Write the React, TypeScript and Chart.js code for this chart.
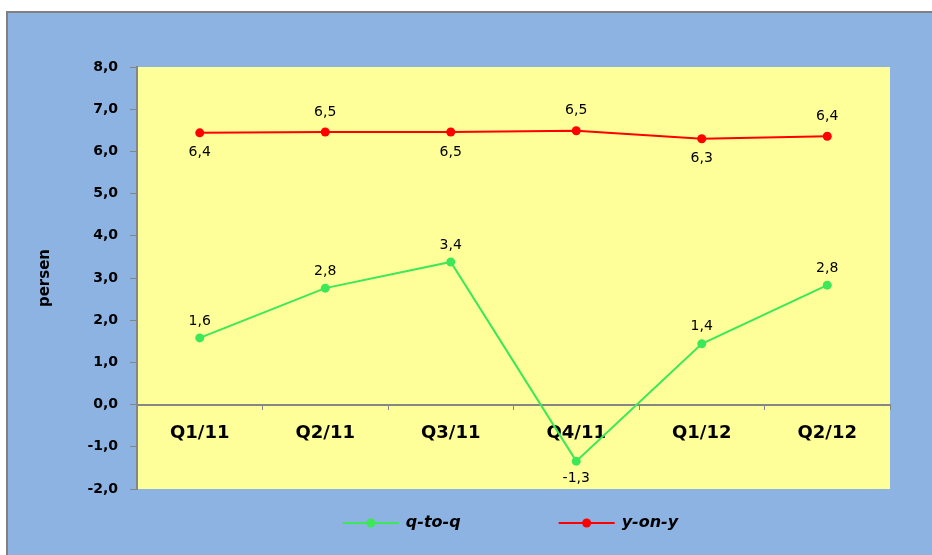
import React, { useEffect, useRef } from "react";
import { Chart, registerables } from "chart.js";

Chart.register(...registerables);

const categories = ["Q1/11", "Q2/11", "Q3/11", "Q4/11", "Q1/12", "Q2/12"];
const qtoqValues = [1.58, 2.76, 3.38, -1.34, 1.44, 2.83];
const yoyValues = [6.44, 6.46, 6.46, 6.49, 6.3, 6.36];
const seriesNames = ["q-to-q", "y-on-y"];
const yMin = -2;
const yMax = 8;
const yStep = 1;
const yTitle = "persen";

const FONT = "'DejaVu Sans', Verdana, sans-serif";
const fmt = (v: number) => v.toFixed(1).replace(".", ",");

const backgroundPlugin = {
  id: "bg",
  beforeDraw(chart: any) {
    const { ctx, width, height, chartArea } = chart;
    ctx.save();
    ctx.fillStyle = "#ffffff";
    ctx.fillRect(0, 0, width, height);
    ctx.fillStyle = "#8db3e2";
    ctx.fillRect(6, 11, width - 6, height - 11);
    ctx.strokeStyle = "#808080";
    ctx.lineWidth = 2;
    ctx.beginPath();
    ctx.moveTo(7, height);
    ctx.lineTo(7, 12);
    ctx.lineTo(width, 12);
    ctx.stroke();
    ctx.fillStyle = "#ffff99";
    ctx.fillRect(chartArea.left, chartArea.top, chartArea.right - chartArea.left, chartArea.bottom - chartArea.top);
    ctx.restore();
  },
};

const dataLabelPlugin = {
  id: "dlabels",
  afterDatasetsDraw(chart: any) {
    const { ctx } = chart;
    ctx.save();
    ctx.font = `14px ${FONT}`;
    ctx.fillStyle = "#000000";
    ctx.textAlign = "center";
    ctx.textBaseline = "middle";
    chart.data.datasets.forEach((ds: any, di: number) => {
      const meta = chart.getDatasetMeta(di);
      meta.data.forEach((pt: any, i: number) => {
        const v = ds.data[i];
        let above: boolean;
        if (di === 1) above = i % 2 === 1;
        else above = v >= 0;
        const off = di === 1 ? 20 : 17;
        ctx.fillText(fmt(v), pt.x, above ? pt.y - off : pt.y + off);
      });
    });
    ctx.restore();
  },
};

const legendPlugin = {
  id: "customLegend",
  afterDraw(chart: any) {
    const { ctx, chartArea } = chart;
    ctx.save();
    ctx.font = `italic bold 16px ${FONT}`;
    const lineLen = 56;
    const gapText = 7;
    const gapItems = 98;
    const items = chart.data.datasets.map((ds: any) => ({
      label: ds.label,
      color: ds.borderColor,
      w: lineLen + gapText + ctx.measureText(ds.label).width,
    }));
    const total = items.reduce((s: number, it: any) => s + it.w, 0) + gapItems * (items.length - 1);
    let x = (chartArea.left + chartArea.right) / 2 - total / 2 - 3;
    const y = 523;
    items.forEach((it: any) => {
      ctx.strokeStyle = it.color;
      ctx.lineWidth = 2;
      ctx.beginPath();
      ctx.moveTo(x, y);
      ctx.lineTo(x + lineLen, y);
      ctx.stroke();
      ctx.fillStyle = it.color;
      ctx.beginPath();
      ctx.arc(x + lineLen / 2, y, 4.5, 0, Math.PI * 2);
      ctx.fill();
      ctx.fillStyle = "#000000";
      ctx.textAlign = "left";
      ctx.textBaseline = "middle";
      ctx.fillText(it.label, x + lineLen + gapText, y);
      x += it.w + gapItems;
    });
    ctx.restore();
  },
};

export default function App() {
  const ref = useRef<HTMLCanvasElement>(null);
  useEffect(() => {
    if (!ref.current) return;
    const chart = new Chart(ref.current, {
      type: "line",
      data: {
        labels: categories,
        datasets: [
          {
            label: seriesNames[0],
            data: qtoqValues,
            borderColor: "#3ce858",
            backgroundColor: "#3ce858",
            borderWidth: 2,
            pointRadius: 4.5,
            pointBorderWidth: 0,
            tension: 0,
          },
          {
            label: seriesNames[1],
            data: yoyValues,
            borderColor: "#ff0000",
            backgroundColor: "#ff0000",
            borderWidth: 2,
            pointRadius: 4.5,
            pointBorderWidth: 0,
            tension: 0,
          },
        ],
      },
      options: {
        responsive: false,
        animation: false,
        layout: { padding: { left: 0, top: 67, right: 42, bottom: 66 } },
        plugins: { legend: { display: false }, tooltip: { enabled: false } },
        scales: {
          x: {
            type: "category",
            position: { y: 0 } as any,
            offset: true,
            grid: {
              display: true,
              drawOnChartArea: false,
              drawTicks: true,
              tickLength: 4,
              color: "#868686",
              offset: true,
            },
            border: { display: true, color: "#868686", width: 2 },
            ticks: {
              color: "#000000",
              font: { family: FONT, size: 18, weight: "bold" },
              padding: 14,
              maxRotation: 0,
            },
          },
          y: {
            min: yMin,
            max: yMax,
            afterFit(scale: any) {
              scale.width = 137;
            },
            grid: {
              display: true,
              drawOnChartArea: false,
              drawTicks: true,
              tickLength: 7,
              color: "#868686",
            },
            border: { display: true, color: "#868686", width: 2 },
            ticks: {
              stepSize: yStep,
              color: "#000000",
              font: { family: FONT, size: 14, weight: "bold" },
              padding: 12,
              callback: (v: any) => fmt(Number(v)),
            },
            title: {
              display: true,
              text: yTitle,
              color: "#000000",
              font: { family: FONT, size: 15, weight: "bold" },
              padding: { top: 36, bottom: 0 },
            },
          },
        },
      },
      plugins: [backgroundPlugin, dataLabelPlugin, legendPlugin],
    });
    return () => chart.destroy();
  }, []);
  return (
    <div style={{ position: "absolute", left: 0, top: 0, width: 932, height: 555 }}>
      <canvas ref={ref} width={932} height={555} />
    </div>
  );
}
